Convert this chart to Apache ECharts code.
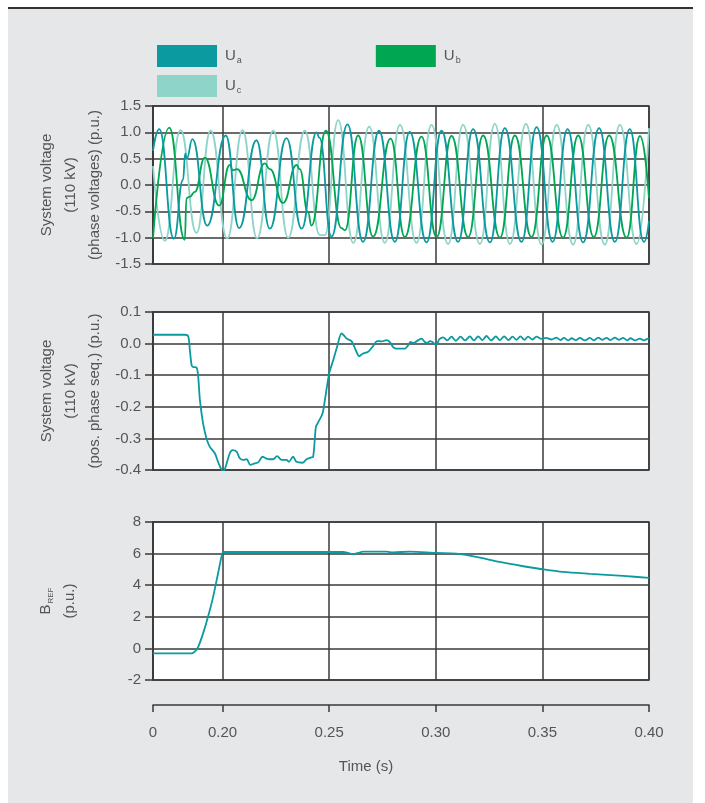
<!DOCTYPE html>
<html>
<head>
<meta charset="utf-8">
<title>System voltage</title>
<script src="https://cdn.jsdelivr.net/npm/echarts@6/dist/echarts.min.js"></script>
<style>
    html, body { margin: 0; padding: 0; background: #fff; }
    #panel { position: absolute; left: 8px; top: 7px; width: 685px; height: 796px; background: #e6e7e8; border-top: 2px solid #333; box-sizing: border-box; }
    #chart { position: absolute; left: 0; top: 0; width: 705px; height: 803px; }
</style>
</head>
<body>
<div id="panel"></div>
<div id="chart"></div>
<script>
/*==时间轴==*/
var tMin = 0.1674, tMax = 0.40;
var timeTicks = [0.1674, 0.20, 0.25, 0.30, 0.35, 0.40];

/*==1. 相电压 (t, p.u.)，读自图中的峰谷==*/
var ua = [[0.1674, 0.65], [0.1703, 1.06], [0.1772, -1.02], [0.1815, 0.10], [0.1825, 0.60], [0.1832, 0.50],
    [0.1859, 0.87], [0.1928, -0.77], [0.2015, 0.94], [0.2078, -0.82], [0.2159, 0.85], [0.2222, -0.83],
    [0.2300, 0.89], [0.2371, -0.83], [0.2441, 1.00], [0.2454, 0.90], [0.2511, -0.98], [0.2586, 1.15],
    [0.2659, -1.08], [0.2734, 1.03], [0.2808, -1.08], [0.2878, 1.01], [0.2957, -1.09], [0.3027, 1.03],
    [0.3105, -1.08], [0.3175, 1.06], [0.3254, -1.09], [0.3324, 1.08], [0.3402, -1.08], [0.3473, 1.10],
    [0.3548, -1.08], [0.3618, 1.06], [0.3691, -1.09], [0.3766, 1.08], [0.3840, -1.08], [0.3910, 1.06],
    [0.3976, -1.08], [0.4000, -0.68]];
var ub = [[0.1674, -1.01], [0.1750, 1.09], [0.1823, -1.04], [0.1831, -0.25], [0.1847, -0.22], [0.1870, -0.13],
    [0.1917, 0.52], [0.1984, -0.39], [0.2034, 0.38], [0.2048, 0.28], [0.2068, 0.30], [0.2136, -0.29],
    [0.2198, 0.41], [0.2222, 0.30], [0.2284, -0.34], [0.2347, 0.38], [0.2362, 0.30], [0.2401, -0.52],
    [0.2417, -0.77], [0.2485, 1.03], [0.2558, -0.82], [0.2574, -0.86], [0.2636, 0.94], [0.2706, -0.98],
    [0.2788, 0.88], [0.2855, -0.99], [0.2933, 0.92], [0.3004, -0.99], [0.3074, 0.93], [0.3152, -0.99],
    [0.3222, 0.94], [0.3301, -1.00], [0.3371, 0.94], [0.3449, -0.99], [0.3520, 0.94], [0.3597, -1.00],
    [0.3668, 0.94], [0.3741, -0.99], [0.3813, 0.94], [0.3895, -1.00], [0.3958, 0.93], [0.4000, -0.25]];
var uc = [[0.1674, 0.36], [0.1729, -1.06], [0.1803, 1.04], [0.1878, -0.91], [0.1944, 1.03], [0.2022, -1.01],
    [0.2094, 1.04], [0.2162, -1.01], [0.2238, 1.03], [0.2308, -1.00], [0.2386, 1.03], [0.2456, -0.95],
    [0.2480, -0.95], [0.2542, 1.23], [0.2613, -1.10], [0.2688, 1.11], [0.2761, -1.10], [0.2832, 1.14],
    [0.2910, -1.10], [0.2980, 1.14], [0.3058, -1.12], [0.3128, 1.14], [0.3207, -1.12], [0.3277, 1.16],
    [0.3348, -1.12], [0.3423, 1.16], [0.3496, -1.13], [0.3567, 1.14], [0.3644, -1.13], [0.3715, 1.14],
    [0.3793, -1.13], [0.3863, 1.14], [0.3942, -1.12], [0.4000, 1.08]];

/*==2. 正序电压 (t, p.u.)==*/
var posSeq = [[0.1674, 0.028], [0.1823, 0.028], [0.1839, 0.023], [0.1847, -0.021], [0.1855, -0.068],
    [0.1862, -0.074], [0.1878, -0.076], [0.1886, -0.105], [0.1894, -0.179], [0.1909, -0.253], [0.1925, -0.300],
    [0.1940, -0.326], [0.1964, -0.347], [0.1979, -0.374], [0.1995, -0.398], [0.2006, -0.402], [0.2015, -0.389],
    [0.2034, -0.347], [0.2047, -0.337], [0.2066, -0.342], [0.2081, -0.363], [0.2097, -0.368], [0.2113, -0.366],
    [0.2131, -0.384], [0.2151, -0.379], [0.2167, -0.376], [0.2188, -0.358], [0.2203, -0.363], [0.2222, -0.366],
    [0.2237, -0.366], [0.2256, -0.356], [0.2277, -0.368], [0.2300, -0.368], [0.2311, -0.374], [0.2331, -0.358],
    [0.2347, -0.374], [0.2375, -0.377], [0.2394, -0.366], [0.2413, -0.361], [0.2425, -0.358], [0.2438, -0.263],
    [0.2448, -0.250], [0.2469, -0.221], [0.2480, -0.179], [0.2500, -0.095], [0.2519, -0.053], [0.2537, -0.011],
    [0.2558, 0.032], [0.2569, 0.026], [0.2582, 0.016], [0.2605, 0.008], [0.2625, -0.021], [0.2641, -0.040],
    [0.2657, -0.032], [0.2683, -0.026], [0.2706, -0.008], [0.2725, 0.008], [0.2746, 0.007], [0.2769, 0.011],
    [0.2785, 0.005], [0.2800, -0.011], [0.2816, -0.016], [0.2855, -0.016], [0.2871, -0.005], [0.2882, 0.005],
    [0.2897, 0.002], [0.2918, 0.011], [0.2933, 0.016], [0.2949, 0.005], [0.2960, 0.002], [0.2972, 0.008],
    [0.2985, 0.005], [0.2996, -0.002], [0.3007, 0.000], [0.3016, 0.013], [0.3035, 0.020], [0.3054, 0.010],
    [0.3074, 0.022], [0.3094, 0.009], [0.3116, 0.022], [0.3138, 0.010], [0.3160, 0.023], [0.3179, 0.010],
    [0.3199, 0.023], [0.3219, 0.011], [0.3238, 0.024], [0.3260, 0.010], [0.3282, 0.023], [0.3300, 0.011],
    [0.3321, 0.023], [0.3341, 0.011], [0.3360, 0.022], [0.3379, 0.012], [0.3397, 0.023], [0.3416, 0.012],
    [0.3433, 0.022], [0.3454, 0.013], [0.3472, 0.022], [0.3496, 0.015], [0.3516, 0.018], [0.3543, 0.013],
    [0.3566, 0.019], [0.3585, 0.011], [0.3601, 0.018], [0.3621, 0.010], [0.3637, 0.017], [0.3657, 0.011],
    [0.3676, 0.018], [0.3699, 0.010], [0.3723, 0.018], [0.3741, 0.010], [0.3762, 0.019], [0.3782, 0.012],
    [0.3801, 0.018], [0.3819, 0.011], [0.3840, 0.019], [0.3860, 0.012], [0.3879, 0.018], [0.3898, 0.010],
    [0.3913, 0.017], [0.3934, 0.010], [0.3957, 0.016], [0.3976, 0.010], [0.3996, 0.016], [0.4000, 0.014]];

/*==3. B_REF (t, p.u.)==*/
var bRef = [[0.1674, -0.32], [0.1855, -0.32], [0.1870, -0.21], [0.1886, 0.10], [0.1909, 0.95], [0.1932, 2.00],
    [0.1956, 3.26], [0.1979, 4.74], [0.2000, 6.04], [0.2011, 6.10], [0.2566, 6.10], [0.2589, 6.04],
    [0.2613, 5.96], [0.2636, 6.04], [0.2659, 6.12], [0.2769, 6.12], [0.2800, 6.08], [0.2878, 6.12],
    [0.3003, 6.04], [0.3097, 6.00], [0.3191, 5.79], [0.3300, 5.47], [0.3410, 5.20], [0.3500, 5.01],
    [0.3597, 4.84], [0.3723, 4.72], [0.3879, 4.59], [0.4000, 4.46]];

var colorA = '#0a9aa0', colorB = '#00a651', colorC = '#8fd4c9';
var textColor = '#555';
var lineColor = '#3a3a3a';
var fontFamily = 'Liberation Sans, Arial, sans-serif';

var subRich = {
    u: { fontSize: 15, color: textColor, fontFamily: fontFamily, padding: [0, 0, 0, 3] },
    s: { fontSize: 9, color: textColor, fontFamily: fontFamily, padding: [10, 0, 0, 1] },
    n: { fontSize: 15, color: textColor, fontFamily: fontFamily, lineHeight: 24 },
    r: { fontSize: 8, color: textColor, fontFamily: fontFamily, padding: [9, 0, 0, 1] }
};

function makeGrid(top) {
    return { left: 153, top: top, width: 496, height: 158, show: true, backgroundColor: '#fff', borderColor: lineColor, borderWidth: 1.5 };
}

function makeX(idx, showAxis) {
    return {
        gridIndex: idx, type: 'value', min: tMin, max: tMax,
        offset: showAxis ? 25 : 0,
        axisLine: { show: showAxis, onZero: false, lineStyle: { color: lineColor, width: 1.5 } },
        axisTick: { show: showAxis, customValues: timeTicks, length: 7, lineStyle: { color: lineColor, width: 1.5 } },
        axisLabel: {
            show: showAxis, customValues: timeTicks, margin: 20, fontSize: 15, color: textColor, fontFamily: fontFamily,
            formatter: function (v) { return v < 0.19 ? '0' : v.toFixed(2); }
        },
        splitLine: { show: true, lineStyle: { color: lineColor, width: 1.5 } },
        name: showAxis ? 'Time (s)' : '',
        nameLocation: 'middle', nameGap: 54, nameMoveOverlap: false,
        nameTextStyle: { fontSize: 15, color: textColor, fontFamily: fontFamily, padding: [0, 70, 0, 0] }
    };
}

function makeY(idx, min, max, step, digits, name, gap) {
    return {
        gridIndex: idx, type: 'value', min: min, max: max, interval: step,
        axisLine: { show: true, lineStyle: { color: lineColor, width: 1.5 } },
        axisTick: { show: true, length: 8, lineStyle: { color: lineColor, width: 1.5 } },
        axisLabel: {
            margin: 12, fontSize: 15, color: textColor, fontFamily: fontFamily,
            formatter: function (v) { return v.toFixed(digits); }
        },
        splitLine: { show: true, lineStyle: { color: lineColor, width: 1.5 } },
        name: name, nameLocation: 'middle', nameRotate: 90, nameGap: gap, nameMoveOverlap: false,
        nameTextStyle: { fontSize: 15, lineHeight: 24, color: textColor, fontFamily: fontFamily, align: 'center', rich: subRich }
    };
}

function makeLine(name, data, color, xi, smooth, mono) {
    return {
        name: name, type: 'line', data: data, xAxisIndex: xi, yAxisIndex: xi,
        showSymbol: false, smooth: smooth, smoothMonotone: mono,
        itemStyle: { color: color },
        lineStyle: { color: color, width: 1.8 }
    };
}

var option = {
    animation: false,
    legend: [
        {
            left: 152, top: 40, itemWidth: 60, itemHeight: 22, itemGap: 134, icon: 'rect',
            data: ['Ua', 'Ub'],
            formatter: function (n) { return '{u|U}{s|' + n.slice(1) + '}'; },
            textStyle: { rich: subRich }
        },
        {
            left: 152, top: 70, itemWidth: 60, itemHeight: 22, icon: 'rect',
            data: ['Uc'],
            formatter: function (n) { return '{u|U}{s|' + n.slice(1) + '}'; },
            textStyle: { rich: subRich }
        }
    ],
    grid: [makeGrid(106), makeGrid(312), makeGrid(522)],
    xAxis: [makeX(0, false), makeX(1, false), makeX(2, true)],
    yAxis: [
        makeY(0, -1.5, 1.5, 0.5, 1, 'System voltage\n(110 kV)\n(phase voltages) (p.u.)', 46),
        makeY(1, -0.4, 0.1, 0.1, 1, 'System voltage\n(110 kV)\n(pos. phase seq.) (p.u.)', 46),
        makeY(2, -2, 8, 2, 0, '{n|B}{r|REF}\n{n|(p.u.)}', 71)
    ],
    series: [
        makeLine('Uc', uc, colorC, 0, 0.5, 'x'),
        makeLine('Ub', ub, colorB, 0, 0.5, 'x'),
        makeLine('Ua', ua, colorA, 0, 0.5, 'x'),
        makeLine('pos', posSeq, colorA, 1, 0.3, null),
        makeLine('bref', bRef, colorA, 2, 0.3, null)
    ]
};

var myChart = echarts.init(document.getElementById('chart'));
myChart.setOption(option);
</script>
</body>
</html>
